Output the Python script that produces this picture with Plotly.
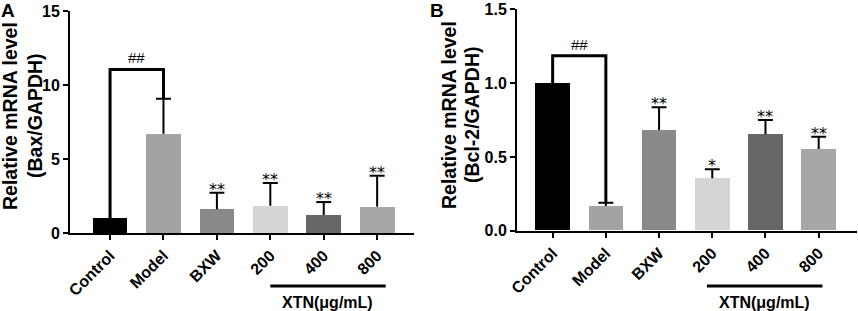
import plotly.graph_objects as go

categories = ["Control", "Model", "BXW", "200", "400", "800"]
bax_mean = [1.0, 6.70, 1.60, 1.84, 1.22, 1.78]
bax_sd = [0.0, 2.37, 1.12, 1.54, 0.87, 2.09]
bcl2_mean = [1.0, 0.167, 0.682, 0.355, 0.653, 0.553]
bcl2_sd = [0.0, 0.023, 0.154, 0.061, 0.097, 0.084]
bar_colors = ["#000000", "#a3a3a3", "#898989", "#d5d5d5", "#666666", "#a7a7a7"]
bax_marks = ["", "", "**", "**", "**", "**"]
bcl2_marks = ["", "", "**", "*", "**", "**"]
bax_ticks = [0, 5, 10, 15]
bcl2_ticks = [0, 0.5, 1.0, 1.5]
bcl2_ticktext = ["0.0", "0.5", "1.0", "1.5"]
bracket_pairs = [0, 1]
bax_bracket_level = 11.05
bcl2_bracket_level = 1.186

W, H = 858, 311
FONT = "Liberation Sans"
xs = list(range(len(categories)))

fig = go.Figure()

panels = [
    dict(mean=bax_mean, sd=bax_sd, marks=bax_marks, xa="x", ya="y",
         level=bax_bracket_level, xtn_line=(3.0, 5.16), xtn_x=4.07,
         title=("Relative mRNA level", "(Bax/GAPDH)"), tx=(10, 35), ty=(116, 116),
         label="A", lx=8),
    dict(mean=bcl2_mean, sd=bcl2_sd, marks=bcl2_marks, xa="x2", ya="y2",
         level=bcl2_bracket_level, xtn_line=(2.9, 5.07), xtn_x=3.98,
         title=("Relative mRNA level", "(Bcl-2/GAPDH)"), tx=(449, 472), ty=(115, 115),
         label="B", lx=437),
]

shapes = []
annotations = []
for p in panels:
    fig.add_trace(go.Bar(x=xs, y=p["mean"], width=0.65, marker=dict(color=bar_colors, line=dict(width=0)),
                         xaxis=p["xa"], yaxis=p["ya"], showlegend=False, hoverinfo="skip"))
    # error bars (upper only)
    ex, ey = [], []
    for i, (m, s) in enumerate(zip(p["mean"], p["sd"])):
        if s <= 0:
            continue
        ex += [i, i, None, i - 0.14, i + 0.14, None]
        ey += [m, m + s, None, m + s, m + s, None]
    fig.add_trace(go.Scatter(x=ex, y=ey, mode="lines", line=dict(color="black", width=2),
                             xaxis=p["xa"], yaxis=p["ya"], showlegend=False, hoverinfo="skip"))
    # significance bracket
    a, b = bracket_pairs
    ya_ = p["mean"][a] + p["sd"][a]
    yb_ = p["mean"][b] + p["sd"][b]
    fig.add_trace(go.Scatter(x=[a, a, b, b], y=[ya_, p["level"], p["level"], yb_], mode="lines",
                             line=dict(color="black", width=3),
                             xaxis=p["xa"], yaxis=p["ya"], showlegend=False, hoverinfo="skip"))
    annotations.append(dict(x=(a + b) / 2, y=p["level"], xref=p["xa"], yref=p["ya"], text="##",
                            showarrow=False, yanchor="bottom", yshift=1,
                            font=dict(family=FONT, size=15, color="black")))
    for i, mk in enumerate(p["marks"]):
        if mk:
            annotations.append(dict(x=i, y=p["mean"][i] + p["sd"][i], xref=p["xa"], yref=p["ya"], text=mk,
                                    showarrow=False, yanchor="bottom", yshift=-8,
                                    font=dict(family="DejaVu Sans", size=16, color="black")))
    # XTN group line and label
    shapes.append(dict(type="line", xref=p["xa"], yref="paper", x0=p["xtn_line"][0], x1=p["xtn_line"][1],
                       y0=(H - 286) / H, y1=(H - 286) / H, line=dict(color="black", width=3)))
    annotations.append(dict(x=p["xtn_x"], y=(H - 302) / H, xref=p["xa"], yref="paper", text="XTN(μg/mL)",
                            showarrow=False, yanchor="middle",
                            font=dict(family=FONT, size=16, color="black", weight="bold")))
    # y titles
    for t, xx, yy in zip(p["title"], p["tx"], p["ty"]):
        annotations.append(dict(x=xx / W, y=(H - yy) / H, xref="paper", yref="paper", text=t,
                                textangle=-90, showarrow=False, xanchor="center", yanchor="middle",
                                font=dict(family=FONT, size=19.5, color="black", weight="bold")))
    annotations.append(dict(x=p["lx"] / W, y=(H - 11) / H, xref="paper", yref="paper", text=p["label"],
                            showarrow=False, xanchor="center", yanchor="middle",
                            font=dict(family=FONT, size=19, color="black", weight="bold")))

axis_common = dict(showline=True, linecolor="black", linewidth=2, ticks="outside", ticklen=5,
                   tickwidth=2, tickcolor="black", showgrid=False, zeroline=False, automargin=False,
                   tickfont=dict(family=FONT, size=16, color="black", weight="bold"))

fig.update_layout(
    width=W, height=H, margin=dict(l=0, r=0, t=0, b=0, autoexpand=False),
    paper_bgcolor="white", plot_bgcolor="white",
    bargap=0, shapes=shapes, annotations=annotations,
    xaxis=dict(domain=[70 / W, 414 / W], range=[-0.75, 5.69], tickvals=xs, ticktext=categories,
               tickangle=-45, anchor="y", **axis_common),
    yaxis=dict(domain=[(H - 233) / H, (H - 11) / H], range=[0, 15], tickvals=bax_ticks, anchor="x",
               **axis_common),
    xaxis2=dict(domain=[517 / W, 857 / W], range=[-0.67, 5.72], tickvals=xs, ticktext=categories,
                tickangle=-45, anchor="y2", **axis_common),
    yaxis2=dict(domain=[(H - 230.7) / H, (H - 9.3) / H], range=[0, 1.5], tickvals=bcl2_ticks,
                ticktext=bcl2_ticktext, anchor="x2", **axis_common),
)

fig.write_html("out.html", config={"displayModeBar": False},
               post_script="document.body.style.margin='0';document.body.style.overflow='hidden';")
